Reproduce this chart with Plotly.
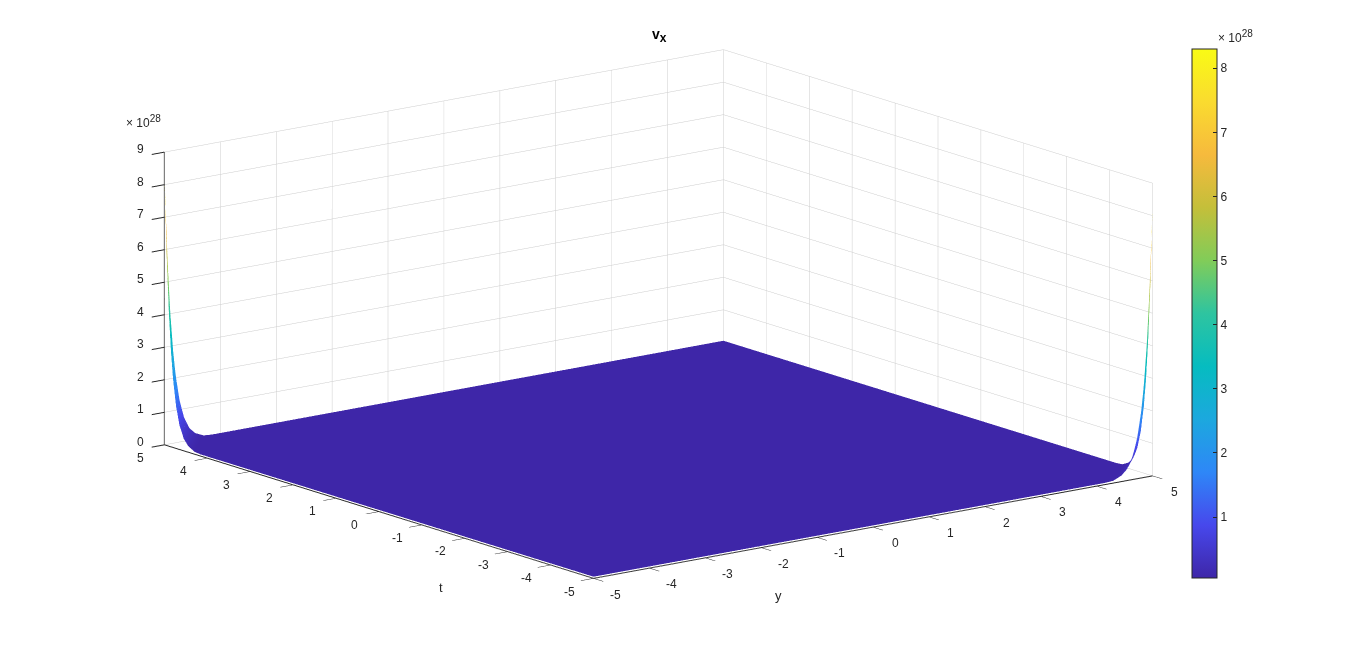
import numpy as np
import plotly.graph_objects as go

# grid, fine near the two spiky corners
y_vals = [-5, -4.95, -4.9, -4.85, -4.8, -4.73, -4.65, -4.55, -4.45, -4.3, -4.15, -3.9, 0,
          3.9, 4.15, 4.3, 4.45, 4.55, 4.65, 4.73, 4.8, 4.85, 4.9, 4.95, 5]
t_vals = [-5, -4.95, -4.9, -4.85, -4.8, -4.73, -4.65, -4.55, -4.45, -4.3, -4.15, -3.9, 0,
          3.9, 4.15, 4.3, 4.45, 4.55, 4.65, 4.73, 4.8, 4.85, 4.9, 4.95, 5]
tick_vals = [-5, -4, -3, -2, -1, 0, 1, 2, 3, 4, 5]
z_ticks = [0, 1, 2, 3, 4, 5, 6, 7, 8, 9]
cbar_ticks = [1, 2, 3, 4, 5, 6, 7, 8]

corner_vals = [
    [8.30, 5.88, 4.16, 2.95, 2.09, 1.29, 0.74, 0.37, 0.19, 0.07, 0.05, 0.05],
    [5.88, 4.16, 2.95, 2.09, 1.48, 0.91, 0.53, 0.26, 0.13, 0.05, 0.05, 0.05],
    [4.16, 2.95, 2.09, 1.48, 1.05, 0.65, 0.37, 0.19, 0.09, 0.05, 0.05, 0.05],
    [2.95, 2.09, 1.48, 1.05, 0.74, 0.46, 0.26, 0.13, 0.07, 0.05, 0.05, 0.05],
    [2.09, 1.48, 1.05, 0.74, 0.53, 0.32, 0.19, 0.09, 0.05, 0.05, 0.05, 0.05],
    [1.29, 0.91, 0.65, 0.46, 0.32, 0.20, 0.12, 0.06, 0.05, 0.05, 0.05, 0.05],
    [0.74, 0.53, 0.37, 0.26, 0.19, 0.12, 0.07, 0.05, 0.05, 0.05, 0.05, 0.05],
    [0.37, 0.26, 0.19, 0.13, 0.09, 0.06, 0.05, 0.05, 0.05, 0.05, 0.05, 0.05],
    [0.19, 0.13, 0.09, 0.07, 0.05, 0.05, 0.05, 0.05, 0.05, 0.05, 0.05, 0.05],
    [0.07, 0.05, 0.05, 0.05, 0.05, 0.05, 0.05, 0.05, 0.05, 0.05, 0.05, 0.05],
    [0.05, 0.05, 0.05, 0.05, 0.05, 0.05, 0.05, 0.05, 0.05, 0.05, 0.05, 0.05],
    [0.05, 0.05, 0.05, 0.05, 0.05, 0.05, 0.05, 0.05, 0.05, 0.05, 0.05, 0.05],
]
flat_val = 0.05

parula = [
    [0.0, '#3e26a8'], [0.1, '#4748ec'], [0.2, '#2e87f7'], [0.3, '#1ca8de'],
    [0.4, '#06bcc0'], [0.5, '#2ec4a0'], [0.6, '#81cc59'], [0.7, '#c4bf3a'],
    [0.8, '#f6ba3d'], [0.9, '#fadb2f'], [1.0, '#f9fb15'],
]

n = len(y_vals)
corner = np.array(corner_vals)
k = corner.shape[0]
z = np.full((n, n), flat_val)
z[n-k:, :k] = corner[::-1, :]       # y=-5, t=5
z[:k, n-k:] = corner[:, ::-1]       # y=5, t=-5

text_col = '#262626'
font = dict(family='Liberation Sans', size=12, color=text_col)

# the page body has an 8px margin
W, H = 1350, 635
def px(x):
    return (x - 8) / W
def py(y):
    return (H - (y - 8)) / H

def axis(rng, vals):
    return dict(
        title=dict(text=''),
        range=rng, tickvals=vals, showticklabels=False,
        showgrid=True, gridcolor='#cccccc', gridwidth=1,
        zeroline=False, showspikes=False,
        showline=True, linecolor=text_col, linewidth=2,
        ticks='outside', ticklen=16, tickcolor=text_col, tickwidth=2,
        showbackground=True, backgroundcolor='white',
    )

def label(txt, x, y, size=12, col=text_col):
    return dict(text=txt, x=px(x), y=py(y), xref='paper', yref='paper',
                xanchor='center', yanchor='middle', showarrow=False,
                font=dict(family='Liberation Sans', size=size, color=col))

# plotly puts 3d tick labels too near the box, so they sit as scene annotations
def tick_label(txt, x, y, z_pos, dx, dy):
    return dict(text=txt, x=x, y=y, z=z_pos, xshift=dx, yshift=dy,
                xanchor='center', yanchor='middle', showarrow=False, font=font)

scene_labels = []
for v in tick_vals:
    scene_labels.append(tick_label(str(v), v, -5, 0, 22, -16))    # y axis
    scene_labels.append(tick_label(str(v), -5, v, 0, -24, -13))   # t axis
for v in z_ticks:
    scene_labels.append(tick_label(str(v), -5, 5, v, -24, 3))

trace = go.Surface(
    x=y_vals, y=t_vals, z=z,
    colorscale=parula, cmin=0.05, cmax=8.3,
    lighting=dict(ambient=1, diffuse=0, specular=0, fresnel=0, roughness=1),
    colorbar=dict(
        x=px(1192), xanchor='left', xpad=0,
        y=py(49), yanchor='top', ypad=0,
        thickness=25, thicknessmode='pixels',
        len=529, lenmode='pixels',
        tickvals=cbar_ticks,
        ticks='inside', ticklen=4, tickcolor=text_col,
        tickfont=font, outlinecolor=text_col, outlinewidth=1,
    ),
)

fig = go.Figure(data=[trace])

exp_text = '× 10<sup><span style="font-size:10px">28</span></sup>'

r = 3
fig.update_layout(
    width=W, height=H,
    paper_bgcolor='white',
    margin=dict(l=0, r=0, t=0, b=0),
    showlegend=False,
    scene=dict(
        domain=dict(x=[0, 0.9637], y=[0.036, 1]),
        xaxis=axis([-5, 5], tick_vals),
        yaxis=axis([-5, 5], tick_vals),
        zaxis=axis([0, 9], z_ticks),
        aspectmode='manual',
        aspectratio=dict(x=2.303, y=2.303, z=0.985),
        camera=dict(
            projection=dict(type='orthographic'),
            up=dict(x=0, y=0, z=1),
            center=dict(x=0, y=0, z=0),
            eye=dict(x=-0.5915*r, y=-0.7706*r, z=0.239*r),
        ),
        annotations=scene_labels,
    ),
    annotations=[
        label('<b>v<sub><span style="font-size:12px">x</span></sub></b>', 659, 35, size=14, col='black'),
        label(exp_text, 143, 121),
        label(exp_text, 1235, 36),
        label('t', 441, 587, size=13),
        label('y', 778, 595, size=13),
    ],
)

fig.write_html("out.html")
